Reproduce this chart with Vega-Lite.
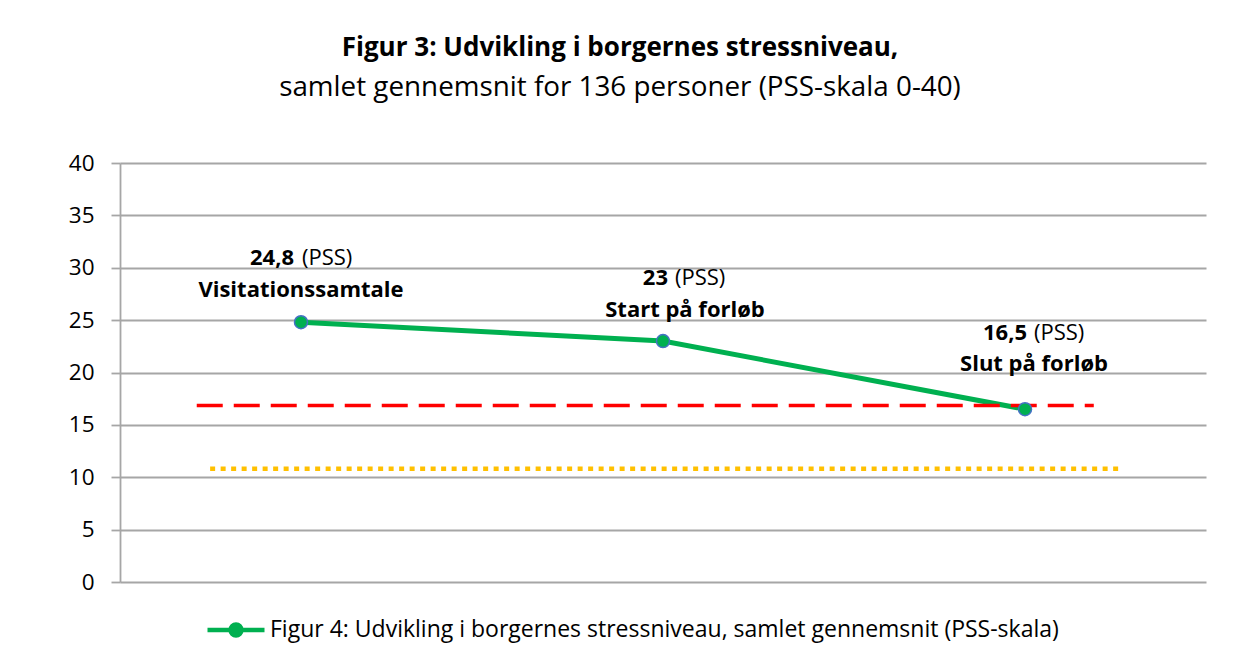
{
  "$schema": "https://vega.github.io/schema/vega-lite/v6.json",
  "width": 1086,
  "height": 419,
  "autosize": {"type": "none"},
  "padding": {"left": 120, "top": 163, "right": 42, "bottom": 80},
  "background": "white",
  "config": {"view": {"stroke": null}, "font": "Open Sans"},
  "title": {
    "text": "Figur 3: Udvikling i borgernes stressniveau,",
    "subtitle": "samlet gennemsnit for 136 personer (PSS-skala 0-40)",
    "anchor": "middle",
    "dx": -43,
    "offset": 50,
    "font": "Open Sans",
    "fontSize": 26,
    "fontWeight": "bold",
    "color": "black",
    "subtitleFont": "Open Sans",
    "subtitleFontSize": 27.8,
    "subtitleFontWeight": "normal",
    "subtitleColor": "black",
    "subtitlePadding": 13
  },
  "datasets": {
    "pss": [
      {"fase": "Visitationssamtale", "pss": 24.8, "tal": "24,8", "serie": "Figur 4: Udvikling i borgernes stressniveau, samlet gennemsnit (PSS-skala)"},
      {"fase": "Start på forløb", "pss": 23, "tal": "23", "serie": "Figur 4: Udvikling i borgernes stressniveau, samlet gennemsnit (PSS-skala)"},
      {"fase": "Slut på forløb", "pss": 16.5, "tal": "16,5", "serie": "Figur 4: Udvikling i borgernes stressniveau, samlet gennemsnit (PSS-skala)"}
    ],
    "refs": [
      {"ref": "rød", "fra": 0.712, "til": 3.19, "niveau": 16.85},
      {"ref": "gul", "fra": 0.749, "til": 3.262, "niveau": 10.8}
    ]
  },
  "resolve": {"scale": {"x": "independent"}},
  "layer": [
    {
      "data": {"name": "pss"},
      "mark": {"type": "line", "strokeWidth": 5},
      "encoding": {
        "x": {"field": "fase", "type": "nominal", "scale": {"type": "point", "domain": ["Visitationssamtale", "Start på forløb", "Slut på forløb"], "padding": 0.5}, "axis": null},
        "y": {
          "field": "pss", "type": "quantitative",
          "scale": {"domain": [0, 40], "nice": false, "zero": true},
          "axis": {
            "title": null,
            "values": [0, 5, 10, 15, 20, 25, 30, 35, 40],
            "grid": true, "gridColor": "#A6A6A6", "gridWidth": 1.8,
            "domainColor": "#A6A6A6", "domainWidth": 1.8,
            "tickColor": "#A6A6A6", "tickWidth": 1.8, "tickSize": 9,
            "labelFont": "Open Sans", "labelFontSize": 22.5, "labelColor": "black", "labelPadding": 17
          }
        },
        "color": {
          "field": "serie", "type": "nominal",
          "scale": {"range": ["#00B050"]},
          "legend": {
            "title": null, "orient": "none", "legendX": 85, "legendY": 436,
            "symbolType": "M-1,0L-0.19,0M0.19,0L1,0M-0.19,0A0.19,0.19,0,1,1,0.19,0A0.19,0.19,0,1,1,-0.19,0Z",
            "symbolSize": 3249, "symbolStrokeWidth": 4.5,
            "labelFont": "Open Sans", "labelFontSize": 23, "labelColor": "black", "labelLimit": 0, "labelOffset": 3,
            "encode": {"symbols": {"update": {"fill": {"value": "#00B050"}, "stroke": {"value": "#00B050"}, "strokeWidth": {"value": 4.5}, "opacity": {"value": 1}}}}
          }
        },
        "order": {"value": null}
      }
    },
    {
      "data": {"name": "refs"},
      "transform": [{"filter": "datum.ref === 'rød'"}],
      "mark": {"type": "rule", "color": "#FF0000", "strokeWidth": 3.5, "strokeDash": [26, 11], "strokeCap": "butt"},
      "encoding": {
        "x": {"field": "fra", "type": "quantitative", "scale": {"domain": [0.5, 3.5], "nice": false, "zero": false}, "axis": null},
        "x2": {"field": "til"},
        "y": {"field": "niveau", "type": "quantitative", "title": null}
      }
    },
    {
      "data": {"name": "refs"},
      "transform": [{"filter": "datum.ref === 'gul'"}],
      "mark": {"type": "rule", "color": "#FFC000", "strokeWidth": 4.5, "strokeDash": [5, 5.5], "strokeCap": "butt"},
      "encoding": {
        "x": {"field": "fra", "type": "quantitative", "scale": {"domain": [0.5, 3.5], "nice": false, "zero": false}, "axis": null},
        "x2": {"field": "til"},
        "y": {"field": "niveau", "type": "quantitative", "title": null}
      }
    },
    {
      "data": {"name": "pss"},
      "mark": {"type": "circle", "size": 170, "fill": "#00B050", "stroke": "#4472C4", "strokeWidth": 1.5, "opacity": 1},
      "encoding": {
        "x": {"field": "fase", "type": "nominal", "scale": {"type": "point", "domain": ["Visitationssamtale", "Start på forløb", "Slut på forløb"], "padding": 0.5}, "axis": null},
        "y": {"field": "pss", "type": "quantitative", "title": null}
      }
    },
    {
      "data": {"name": "pss"},
      "transform": [{"filter": "datum.fase === 'Visitationssamtale'"}],
      "layer": [
        {"mark": {"type": "text", "font": "Open Sans", "fontSize": 22, "fontWeight": "bold", "align": "right", "baseline": "alphabetic", "dx": -7, "dy": -57.5, "color": "black"},
         "encoding": {"text": {"field": "tal"}}},
        {"mark": {"type": "text", "font": "Open Sans", "fontSize": 22, "fontWeight": "normal", "align": "left", "baseline": "alphabetic", "dx": 1, "dy": -57.5, "color": "black"},
         "encoding": {"text": {"value": "(PSS)"}}},
        {"mark": {"type": "text", "font": "Open Sans", "fontSize": 22, "fontWeight": "bold", "align": "center", "baseline": "alphabetic", "dx": 0, "dy": -25.5, "color": "black"},
         "encoding": {"text": {"field": "fase"}}}
      ],
      "encoding": {
        "x": {"field": "fase", "type": "nominal", "scale": {"type": "point", "domain": ["Visitationssamtale", "Start på forløb", "Slut på forløb"], "padding": 0.5}, "axis": null},
        "y": {"field": "pss", "type": "quantitative", "title": null}
      }
    },
    {
      "data": {"name": "pss"},
      "transform": [{"filter": "datum.fase === 'Start på forløb'"}],
      "layer": [
        {"mark": {"type": "text", "font": "Open Sans", "fontSize": 22, "fontWeight": "bold", "align": "right", "baseline": "alphabetic", "dx": 5, "dy": -55.7, "color": "black"},
         "encoding": {"text": {"field": "tal"}}},
        {"mark": {"type": "text", "font": "Open Sans", "fontSize": 22, "fontWeight": "normal", "align": "left", "baseline": "alphabetic", "dx": 12, "dy": -55.7, "color": "black"},
         "encoding": {"text": {"value": "(PSS)"}}},
        {"mark": {"type": "text", "font": "Open Sans", "fontSize": 22, "fontWeight": "bold", "align": "center", "baseline": "alphabetic", "dx": 22, "dy": -24, "color": "black"},
         "encoding": {"text": {"field": "fase"}}}
      ],
      "encoding": {
        "x": {"field": "fase", "type": "nominal", "scale": {"type": "point", "domain": ["Visitationssamtale", "Start på forløb", "Slut på forløb"], "padding": 0.5}, "axis": null},
        "y": {"field": "pss", "type": "quantitative", "title": null}
      }
    },
    {
      "data": {"name": "pss"},
      "transform": [{"filter": "datum.fase === 'Slut på forløb'"}],
      "layer": [
        {"mark": {"type": "text", "font": "Open Sans", "fontSize": 22, "fontWeight": "bold", "align": "right", "baseline": "alphabetic", "dx": 2, "dy": -68.8, "color": "black"},
         "encoding": {"text": {"field": "tal"}}},
        {"mark": {"type": "text", "font": "Open Sans", "fontSize": 22, "fontWeight": "normal", "align": "left", "baseline": "alphabetic", "dx": 9, "dy": -68.8, "color": "black"},
         "encoding": {"text": {"value": "(PSS)"}}},
        {"mark": {"type": "text", "font": "Open Sans", "fontSize": 22, "fontWeight": "bold", "align": "center", "baseline": "alphabetic", "dx": 9, "dy": -37.8, "color": "black"},
         "encoding": {"text": {"field": "fase"}}}
      ],
      "encoding": {
        "x": {"field": "fase", "type": "nominal", "scale": {"type": "point", "domain": ["Visitationssamtale", "Start på forløb", "Slut på forløb"], "padding": 0.5}, "axis": null},
        "y": {"field": "pss", "type": "quantitative", "title": null}
      }
    }
  ]
}
